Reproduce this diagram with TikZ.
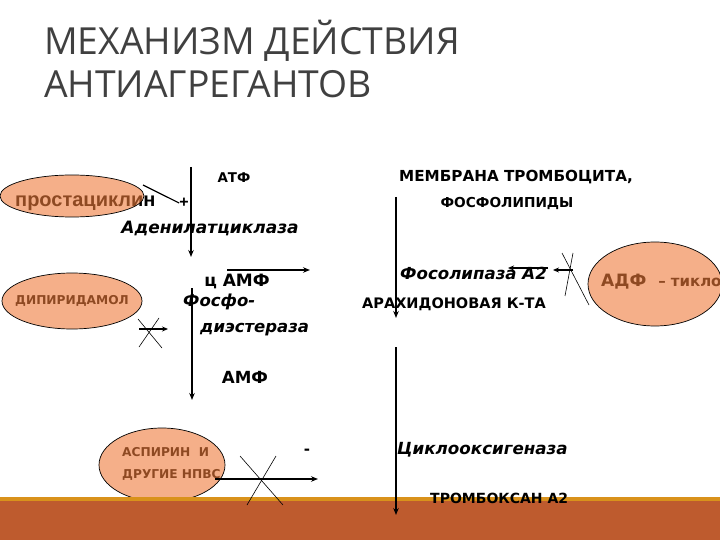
\documentclass[tikz,border=0pt]{standalone}
\usepackage{fontspec}
\setmainfont{Liberation Sans}
\newfontfamily\titlefont{Open Sans}
\newfontfamily\dvs{DejaVu Sans}
\usetikzlibrary{arrows.meta,shapes.geometric}
\definecolor{titlegray}{HTML}{404040}
\definecolor{bubblefill}{HTML}{EE7A3A}
\definecolor{bandgold}{HTML}{D9921B}
\definecolor{bandbrown}{HTML}{BE5B2E}
\tikzset{
  lbl/.style={inner sep=0pt, text=black},
  upb/.style={lbl, font={\dvs\bfseries\fontsize{#1}{#1}\selectfont}},
  itb/.style={lbl, font={\dvs\bfseries\itshape\fontsize{#1}{#1}\selectfont}},
  bubble/.style={ellipse, draw=black, line width=0.7pt, fill=bubblefill, fill opacity=0.6, draw opacity=1, inner sep=0pt},
  flow/.style={line width=1.6pt, -{Stealth[length=7pt,width=5.5pt]}},
  crossx/.style={line width=0.6pt},
}
\begin{document}
\begin{tikzpicture}[x=1pt,y=-1pt]
\useasboundingbox (0,0) rectangle (720,540);
\clip (0,0) rectangle (720,540);

% title
\node[lbl, anchor=base west, text=titlegray, font={\titlefont\fontsize{37.3}{37.3}\selectfont}] (t1) at (44,55) {МЕХАНИЗМ ДЕЙСТВИЯ};
\node[lbl, anchor=base west, text=titlegray, font={\titlefont\fontsize{37.3}{37.3}\selectfont}] (t2) at (44,98) {АНТИАГРЕГАНТОВ};

% texts under bubbles
\node[lbl, anchor=base west, font={\bfseries\fontsize{20}{20}\selectfont}] (prost) at (15,207) {простациклин};
\node[upb=12.2] (dip) at (72,301) {ДИПИРИДАМОЛ};
\node[upb=12.2, anchor=west] (asp1) at (122,452) {АСПИРИН\ \ И};
\node[upb=12.2, anchor=west] (asp2) at (122,475) {ДРУГИЕ НПВС};
\node[lbl, anchor=base west] (adf) at (601,286) {{\dvs\bfseries\fontsize{17}{17}\selectfont АДФ}\hspace{12pt}{\dvs\bfseries\fontsize{15}{15}\selectfont –\hspace{5pt}тикло}};

% bubbles
\node[bubble, minimum width=144pt, minimum height=42pt] (e1) at (72,196) {};
\node[bubble, minimum width=140pt, minimum height=56pt] (e2) at (72,301) {};
\node[bubble, minimum width=126pt, minimum height=74pt] (e3) at (162,465) {};
\node[bubble, minimum width=134pt, minimum height=84pt] (e4) at (655,284) {};

% bottom band
\fill[bandgold] (0,497) rectangle (720,501);
\fill[bandbrown] (0,501) rectangle (720,540);

% labels
\node[upb=13.4] (atf) at (234,178) {АТФ};
\node[lbl, font={\bfseries\fontsize{16}{16}\selectfont}] (plus) at (184,203) {+};
\node[itb=17] (adc) at (210,228) {Аденилатциклаза};
\node[upb=17] (camp) at (237,281) {ц АМФ};
\node[itb=16.5, anchor=west] (pde1) at (183,302) {Фосфо-};
\node[itb=16.5, anchor=west] (pde2) at (200,330) {диэстераза};
\node[upb=16.7] (amp) at (245,377) {АМФ};
\node[upb=15.2] (memb) at (516,177) {МЕМБРАНА ТРОМБОЦИТА,};
\node[upb=13.7] (phl) at (507,203) {ФОСФОЛИПИДЫ};
\node[itb=16.6, anchor=west] (pla) at (400,273) {Фосолипаза А2};
\node[upb=14.5, anchor=west] (arach) at (362,304) {АРАХИДОНОВАЯ К-ТА};
\node[itb=16.7, anchor=west] (cox) at (397,450) {Циклооксигеназа};
\node[upb=14, anchor=west] (tx) at (430,498) {ТРОМБОКСАН А2};
\node[upb=15] (minus) at (307,452) {-};

% connectors
\coordinate (l1a) at (191,167); \coordinate (l1b) at (191,257);
\coordinate (l2a) at (192,288); \coordinate (l2b) at (192,400);
\draw[flow] (l1a) -- (l1b);
\draw[flow] (l2a) -- (l2b);
\coordinate (ca) at (227,270); \coordinate (cb) at (310,270);
\draw[flow] (ca) -- (cb);
\coordinate (pa) at (143,185);
\draw[line width=1.2pt] (pa) -- (plus.west);

\coordinate (r1a) at (396,197); \coordinate (r1b) at (396,318);
\coordinate (r2a) at (396,347); \coordinate (r2b) at (396,515);
\draw[flow] (r1a) -- (r1b);
\draw[flow] (r2a) -- (r2b);

% dipyridamole blocked arrow
\coordinate (da) at (139,329); \coordinate (db) at (168,329);
\draw[line width=1.4pt, -{Stealth[length=6pt,width=5pt]}] (da) -- (db);
\coordinate (dx1) at (138,319); \coordinate (dx2) at (162,348);
\coordinate (dx3) at (159,318); \coordinate (dx4) at (139,347);
\draw[crossx] (dx1) -- (dx2);
\draw[crossx] (dx3) -- (dx4);

% ADP blocked arrows
\coordinate (aa) at (573,270); \coordinate (ab) at (553,270);
\coordinate (ac) at (548,268); \coordinate (ad) at (508,268);
\draw[line width=1.4pt, -{Stealth[length=6pt,width=5pt]}] (aa) -- (ab);
\draw[line width=1.4pt, -{Stealth[length=6pt,width=5pt]}] (ac) -- (ad);
\coordinate (ax1) at (573,253); \coordinate (ax2) at (565,296);
\coordinate (ax3) at (562,253); \coordinate (ax4) at (589,305);
\draw[crossx] (ax1) -- (ax2);
\draw[crossx] (ax3) -- (ax4);

% aspirin blocked arrow
\coordinate (sa) at (215,479); \coordinate (sb) at (318,479);
\draw[line width=1.6pt, -{Stealth[length=7pt,width=5.5pt]}] (sa) -- (sb);
\coordinate (sx1) at (240,456); \coordinate (sx2) at (283,505);
\coordinate (sx3) at (276,456); \coordinate (sx4) at (247,505);
\draw[crossx] (sx1) -- (sx2);
\draw[crossx] (sx3) -- (sx4);
\end{tikzpicture}
\end{document}
